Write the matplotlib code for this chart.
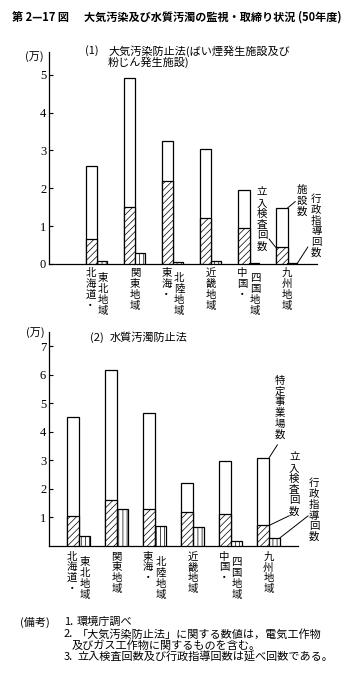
import matplotlib
matplotlib.use("Agg")
import matplotlib.pyplot as plt
import numpy as np

plt.rcParams["font.family"] = ["Noto Sans CJK JP", "DejaVu Sans"]
plt.rcParams["hatch.linewidth"] = 0.5

W, H = 352, 678

# 地域（縦書き、2列のものあり）
region_labels = [
    ("北海道・", "東北地域"),
    ("関東地域",),
    ("東海・", "北陸地域"),
    ("近畿地域",),
    ("中国・", "四国地域"),
    ("九州地域",),
]

# (1) 大気汚染防止法（万）
air_facilities = [2.60, 4.90, 3.26, 3.03, 1.96, 1.48]
air_inspections = [0.66, 1.51, 2.18, 1.21, 0.94, 0.44]
air_guidance = [0.08, 0.28, 0.05, 0.07, 0.03, 0.02]

# (2) 水質汚濁防止法（万）
water_sites = [4.52, 6.16, 4.67, 2.20, 2.99, 3.09]
water_inspections = [1.04, 1.61, 1.30, 1.19, 1.12, 0.72]
water_guidance = [0.36, 1.28, 0.71, 0.67, 0.17, 0.28]

air_ticks = [0, 1, 2, 3, 4, 5]
water_ticks = [1, 2, 3, 4, 5, 6, 7]

notes = [
    ("1.", "環境庁調べ"),
    ("2.", "「大気汚染防止法」に関する数値は，電気工作物"),
    ("", "及びガス工作物に関するものを含む。"),
    ("3.", "立入検査回数及び行政指導回数は延べ回数である。"),
]

LW = 0.9
SERIF = ["Liberation Serif", "DejaVu Serif"]
VSPACE = 1.1


def vtext(s):
    return "\n".join(s)


def px_axes(fig, left, top, right, bottom):
    return fig.add_axes([left / W, 1 - bottom / H, (right - left) / W, (bottom - top) / H])


def draw_panel(ax, totals, insp, guid, main_w, small_off, small_w, ticks, label_dy):
    x = np.arange(len(totals))
    ax.bar(x, totals, width=main_w, color="white", edgecolor="black", linewidth=LW, zorder=2)
    ax.bar(x, insp, width=main_w, color="white", edgecolor="black", linewidth=LW,
           hatch="/////", zorder=3)
    ax.bar(x + small_off, guid, width=small_w, color="white", edgecolor="black",
           linewidth=LW, hatch="||||", zorder=3)

    for side in ("top", "right"):
        ax.spines[side].set_visible(False)
    ax.spines["left"].set_linewidth(LW)
    ax.spines["bottom"].set_linewidth(LW)
    ax.set_xticks([])
    ax.set_yticks(ticks)
    ax.set_yticklabels([str(t) for t in ticks], family=SERIF, fontsize=9)
    ax.tick_params(axis="y", direction="in", length=3, width=0.8, pad=2)
    ax.set_facecolor("none")

    for i, cols in enumerate(region_labels):
        if len(cols) == 1:
            places = [(i + 0.14, label_dy[0])]
        else:
            places = [(i - 0.03, label_dy[0]), (i + 0.30, label_dy[1])]
        for text, (xx, dy) in zip(cols, places):
            ax.annotate(vtext(text), xy=(xx, 0), xycoords=("data", "axes fraction"),
                        xytext=(0, -dy), textcoords="offset points",
                        ha="center", va="top", fontsize=7.5, linespacing=VSPACE,
                        annotation_clip=False)


def leader(ax, start, end):
    ax.annotate("", xy=end, xytext=start,
                arrowprops=dict(arrowstyle="-", lw=0.7, color="black", shrinkA=0, shrinkB=0),
                annotation_clip=False)


def callout(ax, text, pos):
    ax.text(pos[0], pos[1], vtext(text), ha="center", va="top", fontsize=7.5,
            linespacing=VSPACE, clip_on=False)


fig = plt.figure(figsize=(W / 100, H / 100), dpi=100)

# タイトル
fig.text(12 / W, 1 - 17 / H, "第 2—17 図", fontsize=8, fontweight="bold", va="center")
fig.text(84 / W, 1 - 17 / H, "大気汚染及び水質汚濁の監視・取締り状況 (50年度)",
         fontsize=8, fontweight="bold", va="center")

# (1) 大気
ax1 = px_axes(fig, 49, 52, 317, 264)
ax1.set_xlim(-1.118, 5.93)
ax1.set_ylim(0, 5.6)
draw_panel(ax1, air_facilities, air_inspections, air_guidance,
           0.31, 0.284, 0.263, air_ticks, (3, 6.5))
fig.text(25 / W, 1 - 57 / H, "(万)", fontsize=8, va="center")
fig.text(85 / W, 1 - 51 / H, "(1)", fontsize=8, va="center")
fig.text(108 / W, 1 - 51 / H, "大気汚染防止法(ばい煙発生施設及び", fontsize=8, va="center")
fig.text(108 / W, 1 - 62 / H, "粉じん発生施設)", fontsize=8, va="center")

last = len(air_facilities) - 1
callout(ax1, "立入検査回数", (4.48, 2.03))
leader(ax1, (4.67, 0.66), (last - 0.155, air_inspections[last]))
callout(ax1, "施設数", (5.54, 2.08))
leader(ax1, (5.36, 1.65), (last + 0.155, air_facilities[last]))
callout(ax1, "行政指導回数", (5.91, 1.85))
leader(ax1, (5.69, 0.45), (last + 0.284 + 0.13, air_guidance[last]))

# (2) 水質
ax2 = px_axes(fig, 49, 332, 298, 546)
ax2.set_xlim(-0.632, 5.92)
ax2.set_ylim(0, 7.5)
draw_panel(ax2, water_sites, water_inspections, water_guidance,
           0.316, 0.30, 0.28, water_ticks, (4, 8))
fig.text(26 / W, 1 - 333 / H, "(万)", fontsize=8, va="center")
fig.text(90 / W, 1 - 338 / H, "(2)", fontsize=8, va="center")
fig.text(110 / W, 1 - 338 / H, "水質汚濁防止法", fontsize=8, va="center")

last = len(water_sites) - 1
callout(ax2, "特定事業場数", (5.45, 5.97))
leader(ax2, (5.38, 3.55), (last + 0.158, water_sites[last]))
callout(ax2, "立入検査回数", (5.82, 3.29))
leader(ax2, (5.69, 1.06), (last + 0.158, water_inspections[last]))
callout(ax2, "行政指導回数", (6.34, 2.38))
leader(ax2, (6.19, 1.06), (last + 0.30 + 0.14, water_guidance[last]))

# 備考
fig.text(20 / W, 1 - 622 / H, "(備考)", fontsize=8, va="center")
rows_y = [622, 634, 646, 657]
for (num, body), yy in zip(notes, rows_y):
    if num:
        fig.text(64 / W, 1 - yy / H, num, fontsize=8, va="center")
        fig.text(77 / W, 1 - yy / H, body, fontsize=8, va="center")
    else:
        fig.text(72 / W, 1 - yy / H, body, fontsize=8, va="center")

fig.savefig("out.png", dpi=100, facecolor="white")
